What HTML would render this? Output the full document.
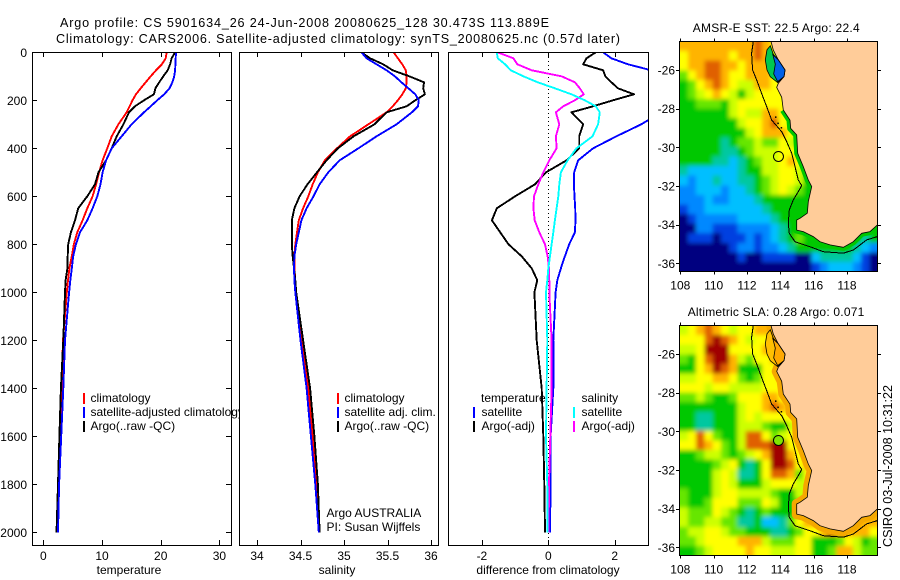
<!DOCTYPE html>
<html><head><meta charset="utf-8"><title>Argo profile</title>
<style>
html,body{margin:0;padding:0;background:#fff}
svg{display:block}
text{font-family:"Liberation Sans",sans-serif;font-size:12px;fill:#000}
text.big{font-size:12.6px}
</style></head><body>
<svg id="fig" xmlns="http://www.w3.org/2000/svg" width="900" height="580" viewBox="0 0 900 580">
<defs>
<clipPath id="c1"><rect x="32" y="52" width="200" height="494"/></clipPath>
<clipPath id="c2"><rect x="239" y="52" width="201" height="494"/></clipPath>
<clipPath id="c3"><rect x="448" y="52" width="201" height="494"/></clipPath>
<clipPath id="m1"><rect x="679.5" y="41.5" width="198" height="230"/></clipPath>
<clipPath id="m2"><rect x="679.5" y="325.5" width="198" height="230"/></clipPath>
<filter id="soft" filterUnits="userSpaceOnUse" x="640" y="0" width="260" height="580"><feGaussianBlur stdDeviation="2"/></filter>
</defs>
<rect width="900" height="580" fill="#fff"/>
<text class="big" x="60" y="27" textLength="489" lengthAdjust="spacing">Argo profile: CS 5901634_26 24-Jun-2008 20080625_128 30.473S 113.889E</text>
<text class="big" x="56" y="43" textLength="564" lengthAdjust="spacing">Climatology: CARS2006. Satellite-adjusted climatology: synTS_20080625.nc (0.57d later)</text>

<g id="panel1">
<g id="p1lines" clip-path="url(#c1)"></g>
<rect x="32.5" y="52.5" width="199" height="493" fill="none" stroke="#000" shape-rendering="crispEdges"/>
<g id="p1ticks"></g>
<text x="129" y="574" text-anchor="middle">temperature</text>
<g>
<rect x="83" y="393" width="2" height="11" fill="#f00"/>
<text x="90.5" y="402">climatology</text>
<rect x="83" y="407" width="2" height="11" fill="#00f"/>
<text x="90.5" y="416">satellite-adjusted climatology</text>
<rect x="83" y="421" width="2" height="11" fill="#000"/>
<text x="90.5" y="430">Argo(..raw -QC)</text>
</g>
</g>

<g id="panel2">
<rect x="239" y="52" width="201" height="494" fill="#fff"/>
<g id="p2lines" clip-path="url(#c2)"></g>
<rect x="239.5" y="52.5" width="199" height="493" fill="none" stroke="#000" shape-rendering="crispEdges"/>
<g id="p2ticks"></g>
<text x="337" y="574" text-anchor="middle">salinity</text>
<g>
<rect x="337" y="393" width="2" height="11" fill="#f00"/>
<text x="344.5" y="402">climatology</text>
<rect x="337" y="407" width="2" height="11" fill="#00f"/>
<text x="344.5" y="416">satellite adj. clim.</text>
<rect x="337" y="421" width="2" height="11" fill="#000"/>
<text x="344.5" y="430">Argo(..raw -QC)</text>
</g>
<text x="326.5" y="517">Argo AUSTRALIA</text>
<text x="326.5" y="531">PI: Susan Wijffels</text>
</g>

<g id="panel3">
<line id="zeroLine" y1="53" y2="545" stroke="#000" stroke-dasharray="1 3" shape-rendering="crispEdges"/>
<g>
<text x="481" y="402">temperature</text>
<rect x="473" y="407" width="2" height="11" fill="#00f"/>
<text x="481.5" y="416">satellite</text>
<rect x="473" y="421" width="2" height="11" fill="#000"/>
<text x="481.5" y="430">Argo(-adj)</text>
<text x="581.5" y="402">salinity</text>
<rect x="573" y="407" width="2" height="11" fill="#0ff"/>
<text x="581.5" y="416">satellite</text>
<rect x="573" y="421" width="2" height="11" fill="#f0f"/>
<text x="581.5" y="430">Argo(-adj)</text>
</g>
<g id="p3lines" clip-path="url(#c3)"></g>
<rect x="448.5" y="52.5" width="200" height="493" fill="none" stroke="#000" shape-rendering="crispEdges"/>
<g id="p3ticks"></g>
<text x="548" y="574" text-anchor="middle">difference from climatology</text>
</g>

<g id="map1">
<text x="692.7" y="32" textLength="167" lengthAdjust="spacing">AMSR-E SST: 22.5 Argo: 22.4</text>
<g clip-path="url(#m1)"><g id="m1cells" filter="url(#soft)"></g></g>
<g id="m1geo" clip-path="url(#m1)"></g>
<rect x="679.5" y="41.5" width="198" height="230" fill="none" stroke="#000" shape-rendering="crispEdges"/>
<g id="m1ticks"></g>
</g>
<g id="map2">
<text x="687.7" y="316" textLength="176.6" lengthAdjust="spacing">Altimetric SLA: 0.28 Argo: 0.071</text>
<g clip-path="url(#m2)"><g id="m2cells" filter="url(#soft)"></g></g>
<g id="m2geo" clip-path="url(#m2)"></g>
<rect x="679.5" y="325.5" width="198" height="230" fill="none" stroke="#000" shape-rendering="crispEdges"/>
<g id="m2ticks"></g>
</g>
<text class="big" transform="translate(892,547) rotate(-90)" textLength="162" lengthAdjust="spacing">CSIRO 03-Jul-2008 10:31:22</text>
</svg>
<script>
// ---------- profile data ----------
const depths = [0,25,50,75,100,125,150,175,200,225,250,300,350,400,450,500,550,600,650,700,750,800,850,900,950,1000,1200,1400,1600,1800,2000];
const tempClim = [21.0,20.85,20.2,19.2,18.3,17.45,16.6,15.8,15.2,14.7,14.2,12.8,11.65,10.9,10.1,9.5,9.0,8.4,7.5,6.7,5.8,5.2,4.85,4.45,4.2,4.0,3.35,3.1,2.85,2.6,2.3];
const tempSat = [22.6,22.55,22.5,22.45,22.3,22.0,21.5,20.6,19.4,18.3,17.15,15.05,13.35,11.65,10.7,10.1,9.75,9.2,8.4,7.5,6.25,5.55,5.1,4.85,4.6,4.4,3.7,3.4,3.05,2.7,2.5];
const tempArgo = [22.45,21.85,21.6,21.2,20.45,19.75,19.1,18.85,17.15,15.6,14.6,13.65,12.5,11.65,10.7,9.4,8.8,7.5,5.95,5.4,4.7,4.25,4.15,4.1,3.8,3.7,3.4,3.0,2.75,2.5,2.25];
const salClim = [35.57,35.62,35.67,35.71,35.72,35.72,35.71,35.67,35.62,35.56,35.49,35.28,35.07,34.92,34.78,34.70,34.64,34.59,34.53,34.48,34.46,34.44,34.43,34.43,34.44,34.44,34.51,34.59,34.64,34.68,34.72];
const salSat = [35.20,35.26,35.375,35.49,35.585,35.66,35.74,35.82,35.86,35.85,35.78,35.605,35.375,35.165,34.95,34.82,34.72,34.65,34.57,34.51,34.48,34.45,34.43,34.425,34.43,34.44,34.5,34.57,34.62,34.67,34.71];
const salArgo = [35.20,35.30,35.45,35.56,35.75,35.92,35.91,35.93,35.82,35.72,35.49,35.35,35.11,34.93,34.80,34.69,34.58,34.49,34.43,34.40,34.40,34.40,34.41,34.425,34.44,34.45,34.53,34.61,34.66,34.70,34.72];
const diffTempSat = [1.65,1.9,2.4,3.1,4,4.5,4.9,4.8,4.2,3.6,3.4,2.8,2.05,1.35,0.9,0.78,0.77,0.79,0.81,0.82,0.8,0.63,0.5,0.38,0.27,0.22,0.15,0.15,0.07,0.07,0.05];
const diffTempArgo = [1.43,1.15,1.05,1.65,1.72,1.9,2.1,2.58,1.95,1.35,0.7,1.05,0.93,0.93,0.55,-0.07,-0.4,-1.0,-1.55,-1.7,-1.45,-1.2,-0.8,-0.5,-0.33,-0.42,-0.35,-0.2,-0.15,-0.12,-0.1];
const diffSalSat = [-1.55,-1.52,-1.3,-1.13,-0.75,-0.32,0.2,0.7,1.1,1.43,1.55,1.5,1.33,0.85,0.58,0.38,0.33,0.3,0.25,0.2,0.15,0.1,0.05,0,-0.03,-0.07,-0.03,-0.05,-0.07,-0.03,-0.02];
const diffSalArgo = [-1.53,-1.05,-0.93,-0.5,0.4,0.8,0.95,1.07,0.8,0.45,0.23,0.33,0.23,0.25,0.03,-0.15,-0.3,-0.43,-0.45,-0.41,-0.27,-0.1,-0.02,0.02,0.03,0.03,0.1,0.1,0.06,0.02,0.01];
// ---------- tick labels ----------
const depthTicks = [0,200,400,600,800,1000,1200,1400,1600,1800,2000];
const tempTicks = [0,10,20,30];
const salTicks = [34,34.5,35,35.5,36];
const diffTicks = [-2,0,2];
const lonTicks = [108,110,112,114,116,118];
const latTicks = [-26,-28,-30,-32,-34,-36];
// ---------- float position ----------
const floatLon = 113.889;
const floatLat = -30.473;
// ---------- gridded map values (colour-class index per 0.5 degree cell, north to south) ----------
const sstGrid = [
[9,9,9,9,9,9,9,9,9,10,9,8],
[8,9,9,9,9,9,8,9,9,10,9,7],
[8,9,9,10,10,9,9,8,9,9,9,8],
[6,8,9,10,10,9,8,8,9,9,9,8,8],
[5,6,8,9,10,9,8,7,7,9,9,8,8],
[5,6,7,8,9,8,7,5,7,8,8,8,8],
[5,5,6,6,6,5,7,8,8,8,8,8,8,7],
[5,5,5,5,5,5,7,8,7,7,9,9,8,7,6],
[5,5,5,5,5,5,5,7,8,8,9,10,8,7,6],
[5,5,5,5,5,5,5,5,7,8,9,9,9,8,6,5],
[5,5,5,5,5,4,5,6,6,7,6,6,8,7,6,5],
[5,5,5,5,5,4,4,5,6,7,7,7,8,8,7,5],
[5,5,5,5,4,4,3,4,5,6,7,7,8,9,8,6,5],
[4,3,3,3,3,3,3,4,5,5,7,7,8,8,7,6,5],
[3,2,3,3,4,3,3,4,4,5,6,7,8,8,7,5,5],
[2,2,3,3,3,2,3,3,4,5,6,7,8,7,6,5,5],
[2,2,2,3,2,2,3,3,3,4,5,5,5,5,5,5,5],
[1,2,2,3,3,3,3,3,3,3,4,5,5,5,5,5,2],
[0,1,2,2,2,2,2,3,3,3,3,4,5,5,5,5],
[0,0,2,2,1,1,1,2,2,2,2,3,4,5,5,5,5],
[0,1,1,1,0,1,1,1,2,1,2,3,4,5,6,5,5,5,5,5,5,5,4,5],
[0,0,0,0,0,0,1,2,2,1,2,2,3,4,5,5,5,5,5,5,5,4,3,2],
[0,0,0,0,0,0,0,1,0,0,1,1,1,1,0,0,3,4,4,4,4,3,1,0],
[0,0,0,0,0,0,0,0,0,0,0,0,0,0,0,0,1,2,3,3,3,2,1,0]
];
const slaGrid = [
[7,8,9,10,9,8,7,8,8,9,9,9],
[8,8,8,10,11,10,9,8,7,8,8,9,9],
[7,7,8,11,11,11,8,8,8,8,9,9,9],
[6,5,8,10,11,11,9,7,6,8,8,9,9],
[5,5,8,9,11,10,9,5,5,5,8,8,9],
[7,7,8,8,9,9,8,6,5,6,8,8,9,9],
[8,8,8,7,8,8,7,7,7,7,8,8,8,9,10],
[6,6,7,6,5,5,6,8,8,8,9,9,8,9,9,10],
[5,5,5,5,5,5,5,7,8,8,9,10,9,8,9,10],
[5,5,4,4,5,5,5,7,8,7,8,8,8,8,9,10],
[5,5,4,4,5,5,5,7,7,7,6,5,5,7,8,9,10],
[7,8,10,8,6,5,5,7,10,10,8,6,7,8,8,9,10],
[8,8,10,9,8,6,5,7,10,10,10,11,11,8,8,9,10],
[5,5,6,7,7,6,5,6,7,8,9,11,11,9,8,9,10],
[5,5,5,5,6,7,8,5,4,5,8,11,11,10,8,9,10],
[5,5,5,5,7,8,7,4,4,5,8,10,10,9,6,8,9],
[5,5,5,5,7,8,7,5,5,5,7,8,8,8,7,7,8,9],
[6,5,5,5,7,8,8,7,7,7,7,6,5,5,7,7,8,10],
[6,5,5,6,8,8,8,6,6,6,8,7,5,5,6,7,9,10],
[7,6,6,6,8,7,6,5,4,5,6,5,5,5,5,6,8,9],
[7,6,6,7,7,6,6,4,4,5,3,3,4,6,8,9,9,9],
[6,7,7,8,8,7,6,6,5,5,5,4,4,5,6,8,8,9,10,9,9,9,9,8],
[6,6,7,8,8,8,8,9,9,9,7,6,6,6,8,8,5,5,5,6,8,7,5,6],
[5,5,6,7,8,8,8,8,9,8,8,7,7,7,8,8,5,5,6,9,9,7,6,6]
];
// ---------- coastline geography (lon, lat) ----------
const coastLon = [113.44,113.58,113.88,114.28,114.22,113.88,113.78,114.08,114.18,114.58,114.62,114.98,115.04,115.38,115.68,115.88,115.68,115.62,115.18,114.98,114.98,115.38,115.98,116.38,116.98,117.78,118.38,118.88,119.38,119.82];
const coastLat = [-24.52,-24.97,-25.48,-26,-26.34,-26.69,-26.9,-27.41,-28.07,-28.59,-29.02,-29.36,-30.31,-31,-31.69,-32.03,-32.81,-33.41,-33.67,-33.76,-34.28,-34.36,-34.62,-34.88,-35.05,-35.17,-34.88,-34.45,-34.36,-34.02];
const isoLon = [112.38,112.28,112.34,112.62,112.88,113.18,113.48,114.08,114.38,114.68,114.88,115.08,115.28,115.08,114.78,114.54,114.48,114.54,114.88,115.78,116.58,117.78,118.38,119.18,119.82];
const isoLat = [-24.52,-25.14,-26,-26.6,-27.21,-27.9,-28.59,-29.19,-29.71,-30.31,-31,-31.69,-31.98,-32.29,-32.72,-33.24,-33.93,-34.45,-34.88,-35.14,-35.4,-35.48,-35.31,-34.79,-34.62];
const bayLon = [113.2,113.4,113.58,113.88,114.28,114.22,113.84,113.4,113.2,113.1];
const bayLat = [-24.95,-24.75,-25.19,-25.48,-26,-26.34,-26.65,-26.35,-26,-25.48];
const bayInnerLon = [113.55,113.88,114.28,114.22,113.84,113.6,113.7];
const bayInnerLat = [-25.2,-25.48,-26,-26.34,-26.6,-26.2,-25.7];
const islandLon = [113.68,113.82,114.02];
const islandLat = [-28.4,-28.72,-28.95];
const palette = ['#000080','#0040e0','#0088ff','#00bfff','#00c8a0','#00c800','#66e600','#ccff00','#ffff00','#ffb400','#e06000','#a00000'];

const NS = 'http://www.w3.org/2000/svg';
function mk(tag, attrs, parentId) {
  const el = document.createElementNS(NS, tag);
  for (const k in attrs) el.setAttribute(k, attrs[k]);
  document.getElementById(parentId).appendChild(el);
  return el;
}
const yDepth = d => 52.3 + 0.24 * d;
const xTemp = v => 43.3 + 5.87 * v;
const xSal = v => 257 + 87 * (v - 34);
const xDiff = v => 548.3 + 33.2 * v;

function drawLine(values, xf, color, parentId) {
  const pts = values.map((v, i) => xf(v).toFixed(1) + ',' + yDepth(depths[i]).toFixed(1)).join(' ');
  const el = mk('polyline', {points: pts, fill: 'none', stroke: color, 'stroke-width': 1.9, 'shape-rendering': 'crispEdges', 'stroke-linejoin': 'round'}, parentId);
  
  
}
drawLine(tempClim, xTemp, '#f00', 'p1lines');
drawLine(tempArgo, xTemp, '#000', 'p1lines');
drawLine(tempSat, xTemp, '#00f', 'p1lines');
drawLine(salClim, xSal, '#f00', 'p2lines');
drawLine(salArgo, xSal, '#000', 'p2lines');
drawLine(salSat, xSal, '#00f', 'p2lines');
drawLine(diffTempSat, xDiff, '#00f', 'p3lines');
drawLine(diffTempArgo, xDiff, '#000', 'p3lines');
drawLine(diffSalArgo, xDiff, '#f0f', 'p3lines');
drawLine(diffSalSat, xDiff, '#0ff', 'p3lines');
const zero = document.getElementById('zeroLine');
zero.setAttribute('x1', Math.round(xDiff(0)) + 0.5);
zero.setAttribute('x2', Math.round(xDiff(0)) + 0.5);

function tick(x1, y1, x2, y2, parentId) {
  const el = mk('line', {x1: x1, y1: y1, x2: x2, y2: y2, stroke: '#000', 'shape-rendering': 'crispEdges'}, parentId);
  
  
}
function label(x, y, s, anchor, parentId) {
  const el = mk('text', {x: x, y: y, 'text-anchor': anchor}, parentId);
  el.textContent = s;
  
  
}
function xAxis(ticks, xf, parentId) {
  ticks.forEach(t => {
    const x = Math.round(xf(t)) + 0.5;
    tick(x, 52, x, 57, parentId);
    tick(x, 545, x, 540, parentId);
    label(xf(t), 560, String(t), 'middle', parentId);
  });
}
xAxis(tempTicks, xTemp, 'p1ticks');
xAxis(salTicks, xSal, 'p2ticks');
xAxis(diffTicks, xDiff, 'p3ticks');
depthTicks.forEach(d => {
  const y = Math.round(yDepth(d)) + 0.5;
  tick(32, y, 37, y, 'p1ticks');
  tick(231, y, 226, y, 'p1ticks');
  label(27, yDepth(d) + 4.5, String(d), 'end', 'p1ticks');
});

// ---------- maps ----------
const xLon = lon => 680.3 + 16.67 * (lon - 108);
function drawMap(grid, y26, cellsId, geoId, ticksId, top, bottom, isSst) {
  const yLat = lat => y26 + 19.33 * (-26 - lat);
  const x0 = 679.7, cw = 198 / 24, ch = 230 / 24, pad = 14;
  grid.forEach((row, r) => {
    for (let c = 0; c < 24; c++) {
      const v = c < row.length ? row[c] : row[row.length - 1];
      const cx = x0 + c * cw - (c === 0 ? pad : 0);
      const cy = top + r * ch - (r === 0 ? pad : 0);
      const w = cw + 0.6 + (c === 0 || c === 23 ? pad : 0);
      const h = ch + 0.6 + (r === 0 || r === 23 ? pad : 0);
      const el = mk('rect', {x: cx.toFixed(2), y: cy.toFixed(2), width: w.toFixed(2), height: h.toFixed(2), fill: palette[v], 'shape-rendering': 'crispEdges'}, cellsId);
      
      
    }
  });
  const coastPts = coastLon.map((lo, i) => xLon(lo).toFixed(1) + ',' + yLat(coastLat[i]).toFixed(1));
  const landPts = coastPts.concat([xLon(120.2).toFixed(1) + ',' + yLat(-34.02).toFixed(1), xLon(120.2).toFixed(1) + ',' + yLat(-24).toFixed(1), xLon(113.44).toFixed(1) + ',' + yLat(-24).toFixed(1)]).join(' ');
  const stripPts = isSst ? coastPts.slice(8) : coastPts;
  const strip = mk('polyline', {points: stripPts.join(' '), fill: 'none', stroke: isSst ? '#00c800' : '#f5a800', 'stroke-width': isSst ? 7 : 10, 'stroke-linejoin': 'round'}, geoId);
  
  
  const land = mk('polygon', {points: landPts, fill: '#ffcc99', stroke: '#000', 'stroke-width': 0.8}, geoId);
  
  
  const bayPts = bayLon.map((lo, i) => xLon(lo).toFixed(1) + ',' + yLat(bayLat[i]).toFixed(1)).join(' ');
  const innerPts = bayInnerLon.map((lo, i) => xLon(lo).toFixed(1) + ',' + yLat(bayInnerLat[i]).toFixed(1)).join(' ');
  const bay = mk('polygon', {points: bayPts, fill: isSst ? '#00c850' : '#ffc000', stroke: '#000', 'stroke-width': 0.8}, geoId);
  
  
  const inner = mk('polygon', {points: innerPts, fill: isSst ? '#0060e8' : '#ffa800', stroke: '#000', 'stroke-width': 0.8}, geoId);
  
  
  const iso = mk('polyline', {points: isoLon.map((lo, i) => xLon(lo).toFixed(1) + ',' + yLat(isoLat[i]).toFixed(1)).join(' '), fill: 'none', stroke: '#000', 'stroke-width': 1, 'shape-rendering': 'crispEdges'}, geoId);
  
  
  islandLon.forEach((lo, i) => {
    const dot = mk('rect', {x: xLon(lo), y: yLat(islandLat[i]), width: 1.5, height: 1.5, fill: '#000'}, geoId);
    
    
  });
  const mark = mk('circle', {cx: xLon(floatLon), cy: yLat(floatLat), r: 5, fill: isSst ? 'none' : '#80e600', stroke: '#000', 'stroke-width': 1}, geoId);
  
  
  lonTicks.forEach(t => {
    const x = Math.round(xLon(t)) + 0.5;
    tick(x, top - 3, x, top, ticksId);
    tick(x, bottom, x, bottom + 3, ticksId);
    label(xLon(t), bottom + 18, String(t), 'middle', ticksId);
  });
  latTicks.forEach(t => {
    const y = Math.round(yLat(t)) + 0.5;
    tick(676, y, 679, y, ticksId);
    tick(878, y, 881, y, ticksId);
    label(675, yLat(t) + 4.5, String(t), 'end', ticksId);
  });
}
drawMap(sstGrid, 70, 'm1cells', 'm1geo', 'm1ticks', 41.5, 271.5, true);
drawMap(slaGrid, 354, 'm2cells', 'm2geo', 'm2ticks', 325.5, 555.5, false);
</script>
</body></html>
